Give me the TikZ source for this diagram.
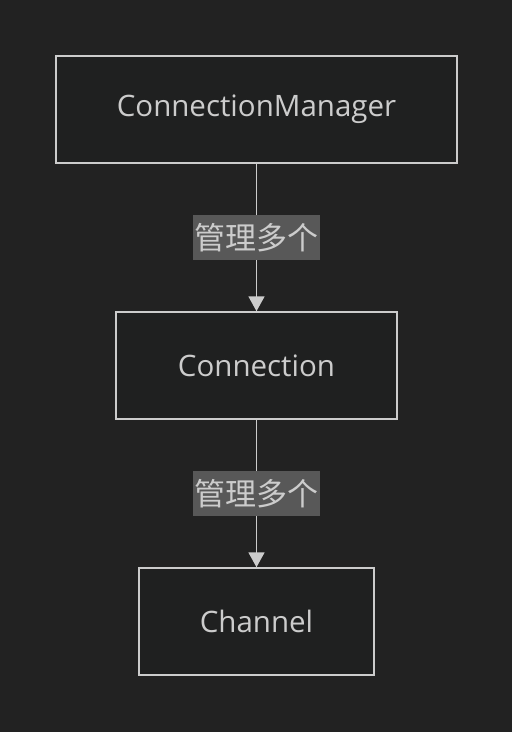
\documentclass[tikz,border=0pt]{standalone}
\usepackage{fontspec}
\setmainfont{Open Sans}
\newfontfamily\cjk{Noto Sans CJK SC}
\usetikzlibrary{arrows.meta}
\definecolor{bg}{HTML}{222222}
\definecolor{boxfill}{HTML}{1F2020}
\definecolor{fg}{HTML}{CCCCCC}
\definecolor{lblbg}{HTML}{585858}
\tikzset{
  box/.style={draw=fg, line width=1.5pt, fill=boxfill, text=fg, font=\fontsize{29.5}{34}\selectfont, inner sep=0pt},
  lbl/.style={fill=lblbg, text=fg, font=\cjk\fontsize{31}{34}\selectfont, inner sep=0pt, minimum width=127pt, minimum height=45pt},
  conn/.style={draw=fg, line width=1.8pt, -{Triangle[length=15pt,width=16pt]}}
}
\begin{document}
\begin{tikzpicture}[x=1pt,y=-1pt]
\fill[bg] (0,0) rectangle (512,732);
\useasboundingbox (0,0) rectangle (512,732);
\node[box, minimum width=401pt, minimum height=107pt] (cm) at (256.5,109.5) {\raisebox{-1pt}{ConnectionManager}};
\node[box, minimum width=281pt, minimum height=107pt] (c) at (256.5,365.5) {\raisebox{-1pt}{Connection}};
\node[box, minimum width=235pt, minimum height=107pt] (ch) at (256.5,621.5) {\raisebox{-1pt}{Channel}};
\draw[conn] (cm) -- (c) node[lbl, midway, yshift=0pt] (l1) {管理多个};
\draw[conn] (c) -- (ch) node[lbl, midway, yshift=0pt] (l2) {管理多个};
\end{tikzpicture}
\end{document}
